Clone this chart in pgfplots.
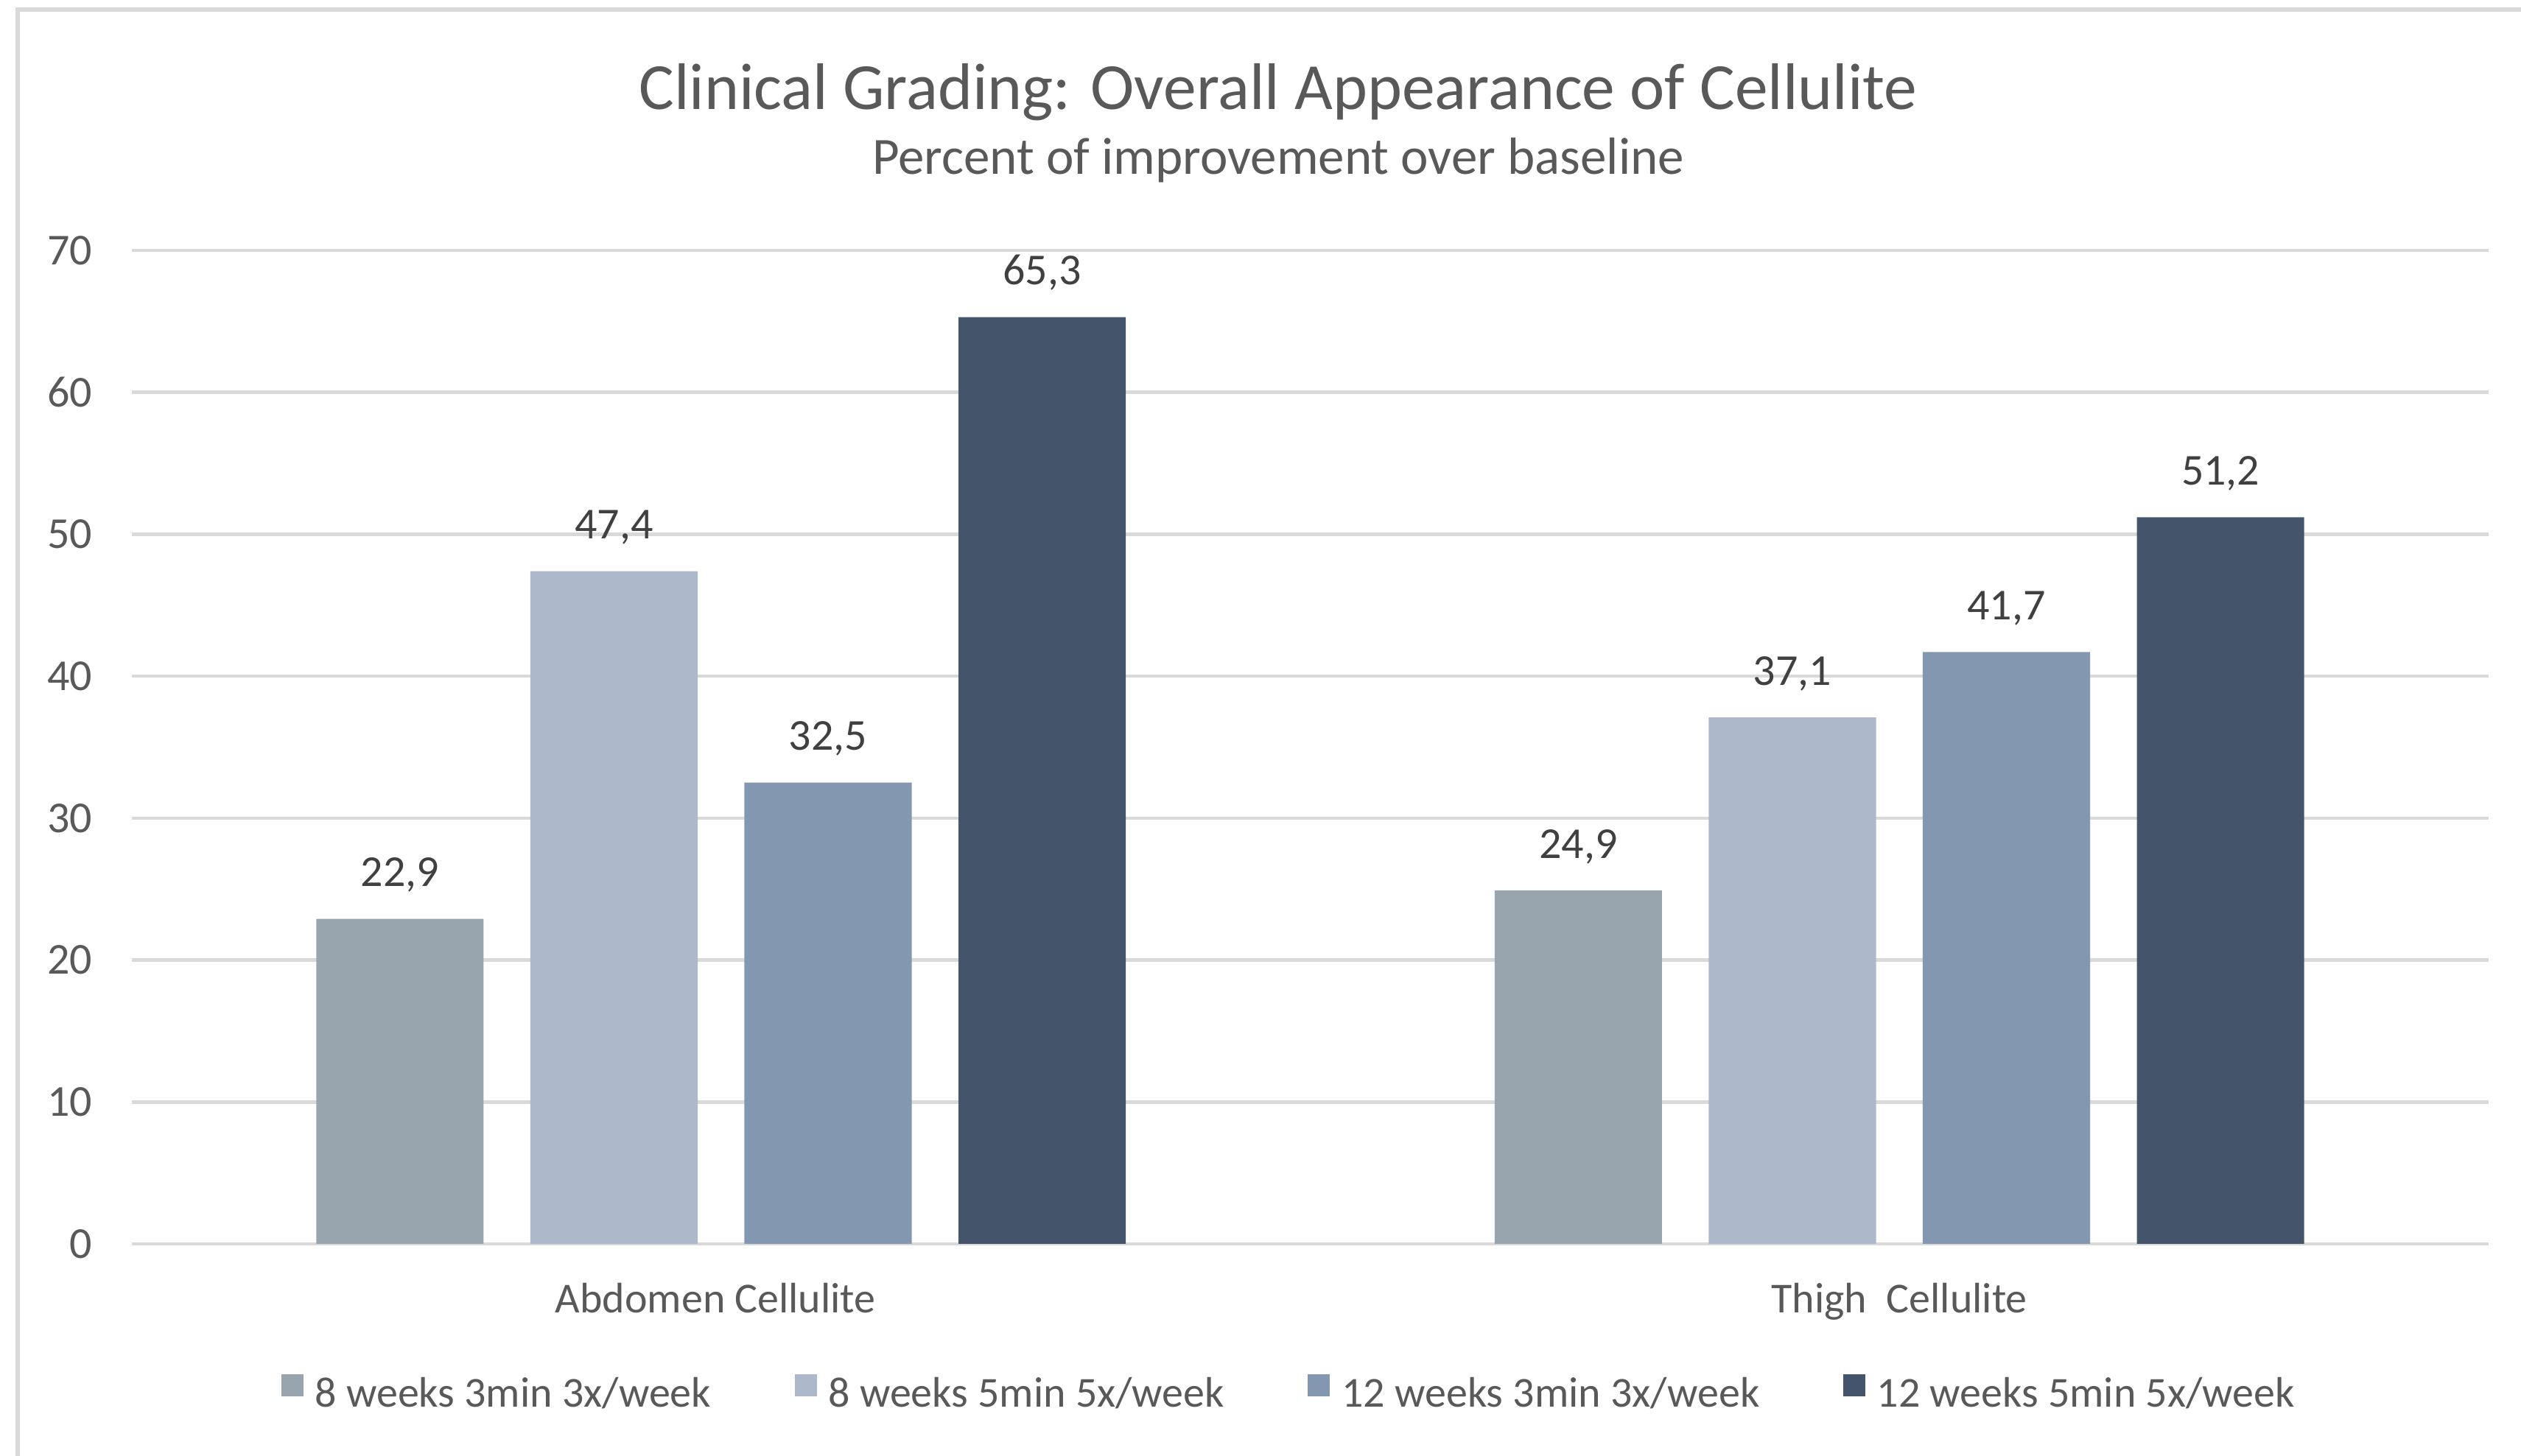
\documentclass[border=0pt]{standalone}
\usepackage{fontspec}
\setmainfont{Carlito}
\usepackage{pgfplots}
\pgfplotsset{compat=1.18}
\definecolor{cA}{HTML}{99A5AE}
\definecolor{cB}{HTML}{ADB8CA}
\definecolor{cC}{HTML}{8497B0}
\definecolor{cD}{HTML}{44546A}
\definecolor{gridc}{HTML}{D9D9D9}
\definecolor{txt}{HTML}{595959}
\definecolor{lbl}{HTML}{404040}
\begin{document}
\begin{tikzpicture}
\path[use as bounding box] (-35.8pt,-57.6pt) rectangle (648.6pt,337.8pt);
\begin{axis}[
  scale only axis, width=639.8pt, height=269.8pt,
  at={(0,0)}, anchor=south west,
  xmin=-0.5, xmax=1.5, ymin=0, ymax=70,
  ybar, bar width=0.142,
  xtick={0,1},
  xticklabels={Abdomen Cellulite\hspace*{3pt}, Thigh\ \ Cellulite},
  ytick={0,10,...,70},
  axis line style={draw=none},
  major tick length=0pt,
  ymajorgrids, grid style={gridc, line width=0.9pt},
  clip=false,
  /pgf/number format/assume math mode=true,
  yticklabel style={font=\fontsize{12}{14}\selectfont, text=txt, anchor=east, inner sep=0pt, xshift=-10.6pt},
  xticklabel style={font=\fontsize{11.6}{14}\selectfont, text=txt, anchor=north, inner sep=0pt, yshift=-10.5pt},
  nodes near coords={\pgfmathprintnumber[fixed,fixed zerofill,precision=1,use comma,assume math mode=true]{\pgfplotspointmeta}},
  nodes near coords style={font=\fontsize{12}{14}\selectfont, text=lbl, anchor=base, inner sep=0pt, yshift=8.8pt},
  legend style={at={(0.4905,-0.1505)}, anchor=center, draw=none, fill=none,
    font=\fontsize{11.6}{14}\selectfont, text=txt, legend columns=4,
    /tikz/every even column/.append style={column sep=22.7pt},
    /tikz/every odd column/.append style={column sep=3.2pt},
    nodes={inner sep=0pt}},
  legend image code/.code={\fill[#1] (0pt,-0.5pt) rectangle (6pt,5.5pt);},
]
\addplot[fill=cA, draw=none, bar shift=-0.2725] coordinates {(0,22.9) (1,24.9)};
\addplot[fill=cB, draw=none, bar shift=-0.0908] coordinates {(0,47.4) (1,37.1)};
\addplot[fill=cC, draw=none, bar shift=0.0908] coordinates {(0,32.5) (1,41.7)};
\addplot[fill=cD, draw=none, bar shift=0.2725] coordinates {(0,65.3) (1,51.2)};
\legend{8 weeks 3min 3x/week, 8 weeks 5min 5x/week, 12 weeks 3min 3x/week, 12 weeks 5min 5x/week}
\node[font=\fontsize{17.9}{21}\selectfont, text=txt, anchor=base] at (axis description cs:0.4864,1.1423) {Clinical Grading: Overall Appearance of Cellulite};
\node[font=\fontsize{14.2}{17}\selectfont, text=txt, anchor=base] at (axis description cs:0.4864,1.0764) {Percent of improvement over baseline};
\end{axis}
\draw[gridc, line width=1.2pt] (-31pt,-57.6pt) -- (-31pt,335.2pt) -- (648.6pt,335.2pt);
\end{tikzpicture}
\end{document}
